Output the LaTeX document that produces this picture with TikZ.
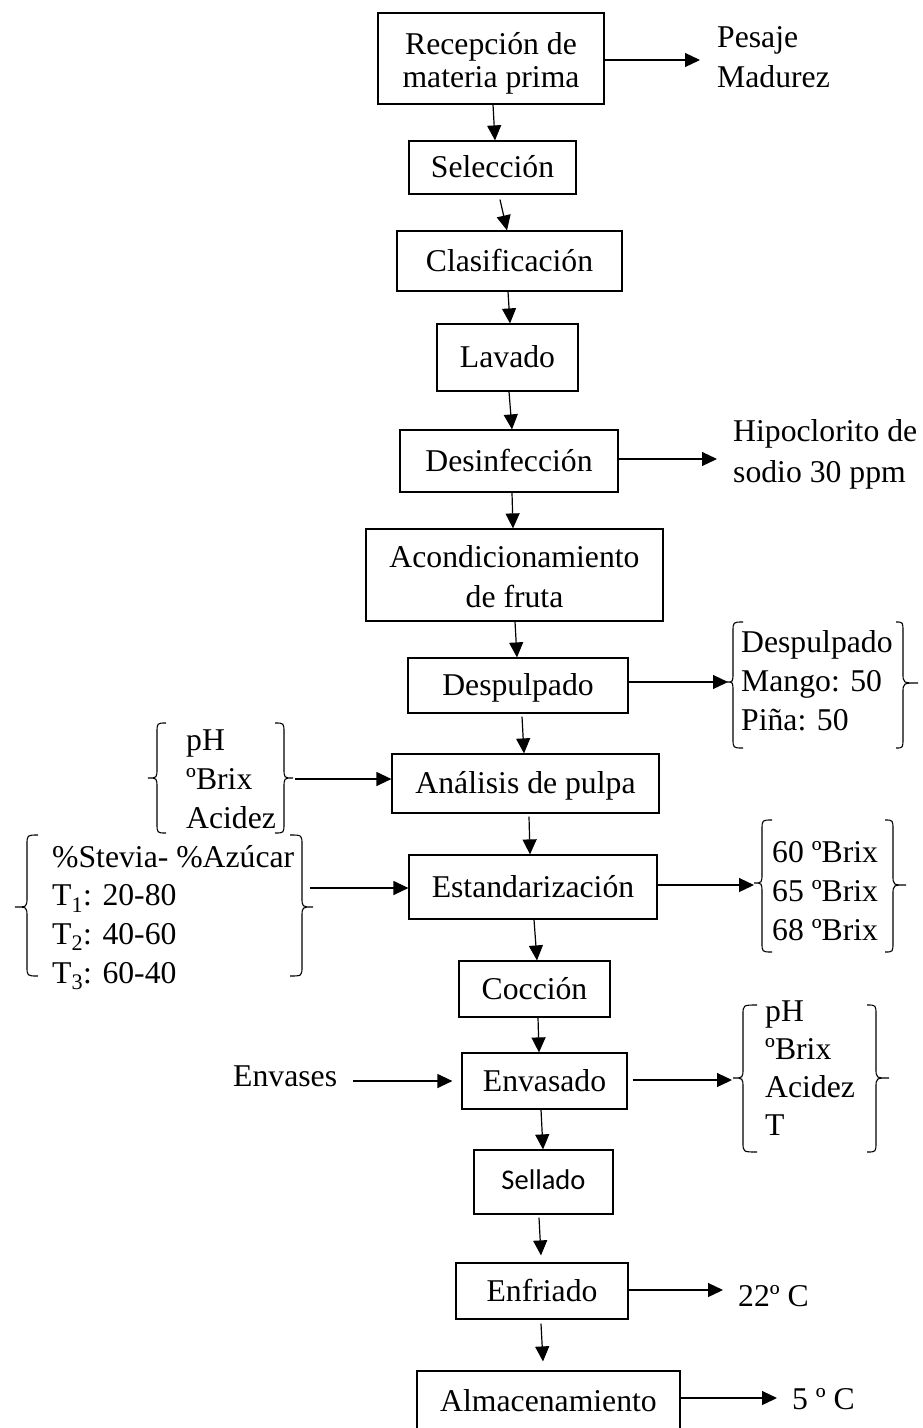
\documentclass[tikz,border=0pt]{standalone}
\usepackage{fontspec}
\setmainfont{Liberation Serif}
\newfontfamily\calib{Carlito}
\usetikzlibrary{arrows.meta}
\newcommand{\tS}{\rule{0pt}{1em}}
\newcommand{\bS}{\rule[-0.2em]{0pt}{0.2em}}
\newcommand{\sS}{\rule{0pt}{0.9em}}
\newcommand{\mybrace}[6]{\draw[bracestyle] (#1,#4) .. controls (#2,#4) .. (#2,#4+10) -- (#2,#6-10) .. controls (#2,#6) .. (#3,#6) .. controls (#2,#6) .. (#2,#6+10) -- (#2,#5-10) .. controls (#2,#5) .. (#1,#5);}
\begin{document}
\begin{tikzpicture}[x=1pt,y=-1pt,
  box/.style={draw, line width=1.2pt, inner sep=0pt, font=\fontsize{31.7}{33}\selectfont, text height=28.5pt, text depth=7.9pt},
  boxtwo/.style={draw, line width=1.2pt, inner sep=0pt, align=center},
  side/.style={inner sep=0pt, anchor=north west, align=left},
  single/.style={inner sep=0pt, anchor=base west, font=\fontsize{31.7}{38}\selectfont},
  arr/.style={line width=1.2pt, -{Triangle[length=15pt,width=14pt]}},
  bracestyle/.style={line width=1.1pt}
]
\useasboundingbox (0,0) rectangle (923,1428);
\clip (0,0) rectangle (923,1428);

% process boxes
\node[boxtwo, font=\fontsize{31.7}{33}\selectfont, minimum width=226pt, minimum height=91pt] (rec) at (491,58.5) {\tS Recepción de\\materia prima\bS};
\node[box, minimum width=167pt, minimum height=53pt] (sel) at (492.5,167.5) {Selección};
\node[box, minimum width=225pt, minimum height=60pt] (cla) at (509.5,261) {Clasificación};
\node[box, minimum width=141pt, minimum height=67pt] (lav) at (507.5,357.5) {Lavado};
\node[box, minimum width=218pt, minimum height=62pt] (des) at (509,461) {Desinfección};
\node[boxtwo, font=\fontsize{31.7}{40}\selectfont, minimum width=297pt, minimum height=92pt] (aco) at (514.5,575) {\tS Acondicionamiento\\de fruta\bS};
\node[box, minimum width=220pt, minimum height=55pt] (dsp) at (518,685.5) {Despulpado};
\node[box, minimum width=267pt, minimum height=59pt] (ana) at (525.5,783.5) {Análisis de pulpa};
\node[box, minimum width=248pt, minimum height=64pt] (est) at (533,887) {Estandarización};
\node[box, minimum width=151pt, minimum height=56pt] (coc) at (534.5,989) {Cocción};
\node[box, minimum width=165pt, minimum height=56pt] (env) at (544.5,1081) {Envasado};
\node[box, font=\calib\fontsize{28.5}{34}\selectfont, text height=21.4pt, text depth=7.1pt, minimum width=139pt, minimum height=64pt] (sell) at (543.5,1182) {Sellado};
\node[box, minimum width=172pt, minimum height=56pt] (enf) at (542,1291) {Enfriado};
\node[box, minimum width=263pt, minimum height=60pt] (alm) at (548.5,1401) {Almacenamiento};

% side texts
\node[side, font=\fontsize{31.7}{40}\selectfont] (pesT) at (717,18.5) {\sS Pesaje\\Madurez};
\node[side, font=\fontsize{31.7}{41}\selectfont] (hipT) at (733,412.5) {\sS Hipoclorito de\\sodio 30 ppm};
\node[side, font=\fontsize{31.7}{39}\selectfont] (dspT) at (741,623.5) {\sS Despulpado\\Mango: 50\\Piña: 50};
\node[side, font=\fontsize{31.7}{39}\selectfont] (brixT) at (772,833.5) {\sS 60 ºBrix\\65 ºBrix\\68 ºBrix};
\node[side, font=\fontsize{31.7}{39}\selectfont] (anaT) at (186,721.5) {\sS pH\\ºBrix\\Acidez};
\node[side, font=\fontsize{31.7}{38.7}\selectfont] (stevT) at (52,838.5) {\sS\%Stevia- \%Azúcar\\T\textsubscript{1}: 20-80\\T\textsubscript{2}: 40-60\\T\textsubscript{3}: 60-40};
\node[side, font=\fontsize{31.7}{38}\selectfont] (envT) at (765,992.5) {\sS pH\\ºBrix\\Acidez\\T};
\node[single] (envL) at (233,1086) {Envases};
\node[single] (c22) at (738,1306) {22º C};
\node[single] (c5) at (792,1409) {5 º C};

% braces
\mybrace{743}{733}{727}{622}{748}{682}
\mybrace{896}{903}{918}{622}{748}{683}
\mybrace{772}{762}{754}{820}{952}{883}
\mybrace{885}{893}{906}{820}{952}{885}
\mybrace{166}{157}{148}{723}{833}{778}
\mybrace{275}{284}{293}{723}{833}{778}
\mybrace{38}{27}{15}{835}{976}{907}
\mybrace{290}{302}{313}{835}{976}{907}
\mybrace{757}{743}{733}{1005}{1152}{1078}
\mybrace{867}{876}{889}{1005}{1152}{1078}

% vertical flow
\draw[arr] ([xshift=2pt]rec.south) -- ([xshift=2.5pt]sel.north);
\draw[arr] ([xshift=7.5pt,yshift=-5pt]sel.south) -- ([xshift=-2.5pt]cla.north);
\draw[arr] ([xshift=-1.5pt]cla.south) -- ([xshift=2.5pt]lav.north);
\draw[arr] ([xshift=1.5pt]lav.south) -- ([xshift=3pt]des.north);
\draw[arr] ([xshift=3pt]des.south) -- ([xshift=-1.5pt]aco.north);
\draw[arr] ([xshift=0.5pt]aco.south) -- ([xshift=-1pt]dsp.north);
\draw[arr] ([xshift=4pt,yshift=-3pt]dsp.south) -- ([xshift=-1.5pt]ana.north);
\draw[arr] ([xshift=3.5pt,yshift=-3pt]ana.south) -- ([xshift=-3pt]est.north);
\draw[arr] ([xshift=1pt]est.south) -- ([xshift=2.5pt]coc.north);
\draw[arr] ([xshift=3.5pt]coc.south) -- ([xshift=-5.5pt]env.north);
\draw[arr] ([xshift=-3.5pt]env.south) -- ([xshift=-0.5pt]sell.north);
\draw[arr] ([xshift=-4.5pt,yshift=-3pt]sell.south) -- ([xshift=-1pt,yshift=7pt]enf.north);
\draw[arr] ([xshift=-1pt,yshift=-4pt]enf.south) -- ([xshift=-5.5pt,yshift=9pt]alm.north);

% horizontal arrows
\coordinate (pesA) at (700,60);
\coordinate (hipA) at (717,459);
\coordinate (dspA) at (728,682);
\coordinate (anaA) at (295,779);
\coordinate (stevA) at (310,888);
\coordinate (brixA) at (754,885);
\coordinate (envA) at (353,1081);
\coordinate (envB) at (732,1080);
\coordinate (enfA) at (723,1290);
\coordinate (almA) at (777,1398);
\draw[arr] (rec.east |- pesA) -- (pesA);
\draw[arr] (des.east |- hipA) -- (hipA);
\draw[arr] (dsp.east |- dspA) -- (dspA);
\draw[arr] (anaA) -- (anaA -| ana.west);
\draw[arr] (stevA) -- (stevA -| est.west);
\draw[arr] (est.east |- brixA) -- (brixA);
\draw[arr] (envA) -- ([xshift=-9pt]env.west);
\draw[arr] ([xshift=5pt]env.east |- envB) -- (envB);
\draw[arr] (enf.east |- enfA) -- (enfA);
\draw[arr] (alm.east |- almA) -- (almA);
\end{tikzpicture}
\end{document}
